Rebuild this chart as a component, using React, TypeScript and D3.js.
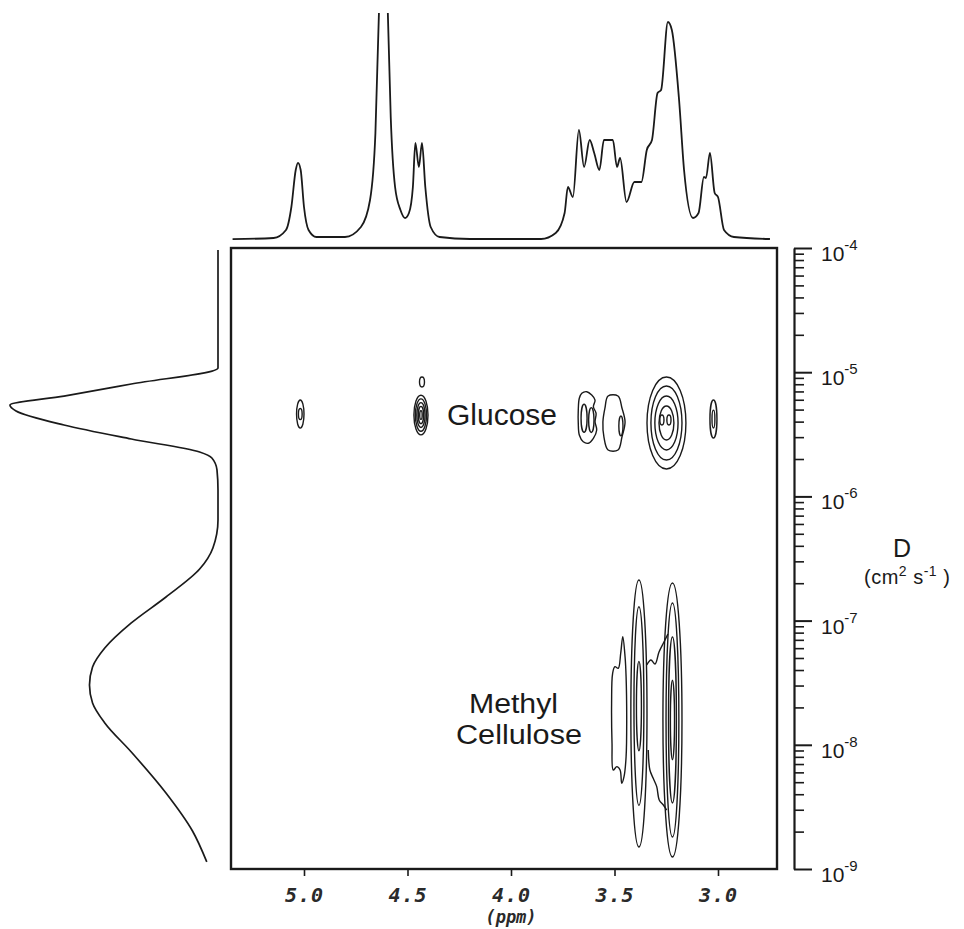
import React, { useEffect, useRef } from 'react';
import * as d3 from 'd3';

const W = 964;
const H = 929;

// top trace: 1H projection (chemical shift in ppm, intensity in arbitrary units)
const topPpm = [5.345, 5.147, 5.087, 5.061, 5.04, 5.029, 5.016, 5.0, 4.978, 4.94, 4.802, 4.725, 4.681, 4.655, 4.638, 4.616, 4.595, 4.581, 4.56, 4.534, 4.512, 4.493, 4.474, 4.462, 4.445, 4.43, 4.414, 4.388, 4.345, 4.198, 3.855, 3.784, 3.741, 3.725, 3.701, 3.672, 3.647, 3.62, 3.598, 3.573, 3.551, 3.508, 3.488, 3.473, 3.442, 3.404, 3.37, 3.344, 3.319, 3.292, 3.275, 3.242, 3.223, 3.188, 3.164, 3.121, 3.094, 3.068, 3.058, 3.039, 3.016, 3.0, 2.971, 2.923, 2.749];
const topInt = [0.4, 1, 5, 16.5, 35, 38.6, 35, 16.5, 5, 1.5, 1.5, 6.5, 20, 53.5, 113.5, 150, 113.5, 61.5, 26.5, 15, 11, 13.5, 26.5, 48.5, 36.5, 48.5, 26.5, 6.5, 1.5, 0.5, 0.5, 3.5, 13.5, 26.5, 21.5, 55, 36.5, 50, 43.5, 35, 50, 50, 36.5, 41, 19, 29, 29, 45, 50, 73.5, 75, 109, 105, 70, 35, 11, 13.5, 31.5, 31, 43.5, 23.5, 21.5, 5, 1.5, 0.5];

// left trace: diffusion projection (log10 D, intensity)
const sideLogD = [-4.016, -4.966, -5.095, -5.192, -5.264, -5.312, -5.425, -5.538, -5.643, -5.691, -5.787, -5.948, -6.19, -6.415, -6.585, -6.81, -7.019, -7.221, -7.374, -7.519, -7.663, -7.824, -8.058, -8.388, -8.694, -8.943];
const sideInt = [0, 0, 42.5, 75.5, 102, 99, 75.5, 42.5, 9, 3, 0.5, 0, 0, 2.5, 9, 25.5, 42.5, 55.5, 61.5, 63, 61.5, 55.5, 42.5, 25.5, 12.5, 5.5];

const ppmTicks = [5.0, 4.5, 4.0, 3.5, 3.0];
const decades = [-4, -5, -6, -7, -8, -9];

// contour rings: [shift ppm, log10 D, half width ppm, half height decades]
const glucoseRings = [
  [5.018, -5.337, 0.018, 0.113],
  [5.018, -5.337, 0.009, 0.045],
  [4.435, -5.345, 0.034, 0.16],
  [4.435, -5.345, 0.027, 0.13],
  [4.435, -5.345, 0.02, 0.1],
  [4.435, -5.345, 0.013, 0.07],
  [4.435, -5.345, 0.006, 0.035],
  [4.43, -5.079, 0.012, 0.04],
  [3.647, -5.37, 0.0145, 0.113],
  [3.612, -5.385, 0.013, 0.1],
  [3.469, -5.433, 0.01, 0.08],
  [3.249, -5.409, 0.094, 0.37],
  [3.249, -5.409, 0.075, 0.298],
  [3.249, -5.409, 0.056, 0.217],
  [3.249, -5.409, 0.036, 0.137],
  [3.271, -5.385, 0.01, 0.04],
  [3.237, -5.385, 0.01, 0.04],
  [3.022, -5.377, 0.017, 0.153],
  [3.022, -5.377, 0.007, 0.072],
];
const celluloseRings = [
  [3.382, -7.748, 0.039, 1.075],
  [3.382, -7.688, 0.024, 0.8],
  [3.382, -7.688, 0.012, 0.36],
  [3.22, -7.8, 0.046, 1.103],
  [3.22, -7.8, 0.031, 0.942],
  [3.22, -7.8, 0.019, 0.668],
  [3.22, -7.8, 0.01, 0.32],
];
// irregular contour outlines: [ppm, log10 D]
const glucoseLeftOutline = [
  [3.658, -5.17], [3.634, -5.157], [3.61, -5.184], [3.594, -5.224], [3.602, -5.278], [3.589, -5.331],
  [3.594, -5.399], [3.586, -5.465], [3.602, -5.532], [3.627, -5.572], [3.651, -5.56], [3.67, -5.506],
  [3.675, -5.411], [3.675, -5.304], [3.67, -5.21],
];
const glucoseMidOutline = [
  [3.531, -5.192], [3.483, -5.192], [3.464, -5.288], [3.449, -5.401], [3.464, -5.522], [3.483, -5.626],
  [3.531, -5.626], [3.551, -5.522], [3.556, -5.401], [3.546, -5.288],
];
const lobeOutline = [
  [3.46, -7.13], [3.449, -7.291], [3.444, -7.452], [3.441, -7.8], [3.444, -8.096], [3.454, -8.257],
  [3.465, -8.31], [3.473, -8.203], [3.489, -8.176], [3.506, -8.203], [3.512, -7.988], [3.514, -7.666],
  [3.509, -7.424], [3.498, -7.371], [3.482, -7.384], [3.47, -7.263],
];
const upperBridge = [[3.344, -7.357], [3.324, -7.317], [3.304, -7.349], [3.285, -7.253], [3.261, -7.172], [3.242, -7.108]];
const lowerBridge = [[3.337, -8.042], [3.329, -8.203], [3.313, -8.27], [3.296, -8.337], [3.284, -8.444], [3.264, -8.485], [3.248, -8.525]];

const box = { left: 231, right: 777, top: 248, bottom: 869 };

const x = d3.scaleLinear().domain([5, 3]).range([304, 718]);
const yD = d3.scaleLog().domain([1e-4, 1e-9]).range([box.top, box.bottom]);
const yLog = (l: number) => yD(Math.pow(10, l));
const topY = d3.scaleLinear().domain([0, 100]).range([240, 40]);
const sideX = d3.scaleLinear().domain([0, 100]).range([218, 14]);

const ink = '#1a1a1a';

const App = () => {
  const rightRef = useRef<SVGGElement>(null);
  const bottomRef = useRef<SVGGElement>(null);

  useEffect(() => {
    const g = d3.select(rightRef.current);
    g.selectAll('*').remove();
    const powers = decades.map((d) => Math.pow(10, d));
    const minor = yD.ticks().filter((t) => !powers.some((p) => Math.abs(t / p - 1) < 1e-6));
    g.append('g')
      .call(d3.axisRight(yD).tickValues(minor).tickSize(10).tickSizeOuter(0).tickFormat(() => ''))
      .call((s) => s.select('.domain').attr('stroke-width', 2.2).attr('stroke', ink))
      .call((s) => s.selectAll('.tick line').attr('stroke-width', 1.6).attr('stroke', ink));
    g.append('g')
      .call(d3.axisRight(yD).tickValues(powers).tickSize(18).tickFormat(() => ''))
      .call((s) => s.select('.domain').remove())
      .call((s) => s.selectAll('.tick line').attr('stroke-width', 2).attr('stroke', ink));

    const b = d3.select(bottomRef.current);
    b.selectAll('*').remove();
    b.call(d3.axisBottom(x).tickValues(ppmTicks).tickSize(7).tickPadding(12).tickFormat(d3.format('.1f')))
      .call((s) => s.select('.domain').remove())
      .call((s) => s.selectAll('.tick line').attr('stroke-width', 1.6).attr('stroke', ink))
      .call((s) =>
        s.selectAll('.tick text')
          .attr('fill', '#2a2a2a')
          .attr('font-family', '"DejaVu Sans Mono", monospace')
          .attr('font-style', 'italic')
          .attr('font-weight', 'bold')
          .attr('font-size', 20)
          .attr('letter-spacing', 1)
      );
  }, []);

  const topLine = d3
    .line<number>()
    .x((_, i) => x(topPpm[i]))
    .y((d) => topY(d))
    .curve(d3.curveMonotoneX);

  const sideLine = d3
    .line<number>()
    .x((d) => sideX(d))
    .y((_, i) => yLog(sideLogD[i]))
    .curve(d3.curveMonotoneY);

  const closedPath = d3
    .line<number[]>()
    .x((d) => x(d[0]))
    .y((d) => yLog(d[1]))
    .curve(d3.curveCatmullRomClosed);

  const openPath = d3
    .line<number[]>()
    .x((d) => x(d[0]))
    .y((d) => yLog(d[1]))
    .curve(d3.curveCatmullRom);

  const ring = (r: number[], i: number, key: string) => (
    <ellipse
      key={key + i}
      cx={x(r[0])}
      cy={yLog(r[1])}
      rx={Math.abs(x(r[0] + r[2]) - x(r[0]))}
      ry={Math.abs(yLog(r[1] + r[3]) - yLog(r[1]))}
      fill="none"
      stroke={ink}
      strokeWidth={1.4}
    />
  );

  return (
    <svg
      width={W}
      height={H}
      style={{ position: 'absolute', left: 0, top: 0, background: '#fff' }}
      fontFamily='"Liberation Sans", Arial, sans-serif'
    >
      <defs>
        <clipPath id="topClip">
          <rect x={0} y={13} width={W} height={240} />
        </clipPath>
      </defs>

      {/* top projection */}
      <path d={topLine(topInt) || ''} fill="none" stroke={ink} strokeWidth={1.8} clipPath="url(#topClip)" />

      {/* left projection */}
      <path d={sideLine(sideInt) || ''} fill="none" stroke={ink} strokeWidth={1.7} />

      {/* frame */}
      <rect
        x={box.left}
        y={box.top}
        width={box.right - box.left}
        height={box.bottom - box.top}
        fill="none"
        stroke={ink}
        strokeWidth={2.4}
      />

      {/* contours */}
      {glucoseRings.map((r, i) => ring(r, i, 'g'))}
      {celluloseRings.map((r, i) => ring(r, i, 'c'))}
      {[glucoseLeftOutline, glucoseMidOutline, lobeOutline].map((p, i) => (
        <path key={'o' + i} d={closedPath(p) || ''} fill="none" stroke={ink} strokeWidth={1.4} />
      ))}
      {[upperBridge, lowerBridge].map((p, i) => (
        <path key={'b' + i} d={openPath(p) || ''} fill="none" stroke={ink} strokeWidth={1.4} />
      ))}

      {/* labels inside */}
      <text x={447} y={425} fontSize={30} fill={ink}>Glucose</text>
      <text x={469} y={713} fontSize={27} fill={ink} textLength={89} lengthAdjust="spacingAndGlyphs">
        Methyl
      </text>
      <text x={456} y={744} fontSize={27} fill={ink} textLength={126} lengthAdjust="spacingAndGlyphs">
        Cellulose
      </text>

      {/* right diffusion axis */}
      <g ref={rightRef} transform="translate(794,0)" />
      {decades.map((d) => (
        <text key={d} x={821} y={yLog(d) + 13} fontSize={21} fill={ink}>
          10
          <tspan dy={-11} fontSize={15}>{d}</tspan>
        </text>
      ))}
      <text x={902} y={557} fontSize={25} fill={ink} textAnchor="middle">D</text>
      <text x={864} y={584} fontSize={20} fill={ink} letterSpacing={0.5}>
        (cm
        <tspan dy={-8} fontSize={14}>2</tspan>
        <tspan dy={8}> s</tspan>
        <tspan dy={-8} fontSize={14}>-1</tspan>
        <tspan dy={8}> )</tspan>
      </text>

      {/* chemical shift axis */}
      <g ref={bottomRef} transform={`translate(0,${box.bottom})`} />
      <text
        x={511}
        y={923}
        fontSize={17}
        fill="#2a2a2a"
        textAnchor="middle"
        fontStyle="italic"
        fontWeight="bold"
        fontFamily='"DejaVu Sans Mono", monospace'
      >
        (ppm)
      </text>
    </svg>
  );
};

export default App;
